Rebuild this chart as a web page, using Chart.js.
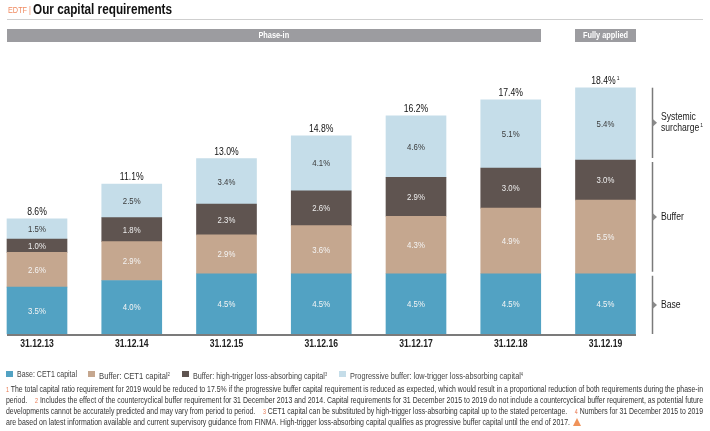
<!DOCTYPE html>
<html>
<head>
<meta charset="utf-8">
<script src="https://cdn.jsdelivr.net/npm/chart.js@4"></script>
<style>
  body { margin: 0; width: 710px; height: 431px; overflow: hidden; background: #fff;
         font-family: "Liberation Sans", Arial, sans-serif; color: #333; }
  #wrap { position: relative; width: 710px; height: 431px; }
  #chart { position: absolute; left: 0; top: 0; }
  .abs { position: absolute; white-space: nowrap; }
  .fit { display: inline-block; transform-origin: 0 50%; white-space: nowrap; }
  .tag { left: 8px; top: 3px; color: #f08a60; font-size: 9.5px; line-height: 14px; }
  .title { left: 33px; top: 1px; font-size: 14px; font-weight: bold; color: #111; line-height: 16px; }
  .rule { left: 7px; top: 19px; width: 696px; height: 1px; background: #cfcfcf; }
  .band { top: 29px; height: 13px; background: #9c9ca0; color: #fff; font-size: 9px;
          font-weight: bold; text-align: center; line-height: 13px; }
  .band .fit { transform-origin: 50% 50%; }
  .sq { top: 371px; width: 6.5px; height: 6px; }
  .leg { top: 368px; font-size: 9.5px; color: #444; line-height: 12px; }
  .leg sup, .foot sup { font-size: 5px; vertical-align: 3px; }
  .foot { left: 6px; font-size: 9px; color: #333; line-height: 11px; }
  .num { color: #e8734a; font-size: 7px; }
  .tri { left: 573px; top: 418px; width: 0; height: 0; border-left: 4.5px solid transparent;
         border-right: 4.5px solid transparent; border-bottom: 8px solid #f0935a; }
</style>
</head>
<body>
<div id="wrap">
  <canvas id="chart" width="710" height="431"></canvas>
  <div class="abs tag"><span class="fit" data-w="23">EDTF |</span></div>
  <div class="abs title"><span class="fit" data-w="139">Our capital requirements</span></div>
  <div class="abs rule"></div>
  <div class="abs band" style="left:7px;width:534px;"><span class="fit" data-s="0.82">Phase-in</span></div>
  <div class="abs band" style="left:575px;width:61px;"><span class="fit" data-s="0.82">Fully applied</span></div>

  <div class="abs sq" style="left:6px;background:#52a2c3"></div>
  <div class="abs leg" style="left:16.5px;"><span class="fit" data-w="60">Base: CET1 capital</span></div>
  <div class="abs sq" style="left:88px;background:#c5a78f"></div>
  <div class="abs leg" style="left:98.5px;"><span class="fit" data-w="71">Buffer: CET1 capital<sup>2</sup></span></div>
  <div class="abs sq" style="left:182px;background:#5f5450"></div>
  <div class="abs leg" style="left:192.5px;"><span class="fit" data-w="134">Buffer: high-trigger loss-absorbing capital<sup>3</sup></span></div>
  <div class="abs sq" style="left:339px;background:#c5dde9"></div>
  <div class="abs leg" style="left:350px;"><span class="fit" data-w="173">Progressive buffer: low-trigger loss-absorbing capital<sup>4</sup></span></div>

  <div class="abs foot" style="top:384px;"><span class="fit" data-w="697"><span class="num">1</span> The total capital ratio requirement for 2019 would be reduced to 17.5% if the progressive buffer capital requirement is reduced as expected, which would result in a proportional reduction of both requirements during the phase-in</span></div>
  <div class="abs foot" style="top:395px;"><span class="fit" data-w="697">period.&nbsp;&nbsp;&nbsp; <span class="num">2</span> Includes the effect of the countercyclical buffer requirement for 31 December 2013 and 2014. Capital requirements for 31 December 2015 to 2019 do not include a countercyclical buffer requirement, as potential future</span></div>
  <div class="abs foot" style="top:406px;"><span class="fit" data-w="697">developments cannot be accurately predicted and may vary from period to period.&nbsp;&nbsp;&nbsp; <span class="num">3</span> CET1 capital can be substituted by high-trigger loss-absorbing capital up to the stated percentage.&nbsp;&nbsp;&nbsp; <span class="num">4</span> Numbers for 31 December 2015 to 2019</span></div>
  <div class="abs foot" style="top:417px;"><span class="fit" data-w="564">are based on latest information available and current supervisory guidance from FINMA. High-trigger loss-absorbing capital qualifies as progressive buffer capital until the end of 2017.</span></div>
  <div class="abs tri"></div>
</div>

<script>
// chart data (capital requirement in % of RWA)
var categories = ["31.12.13", "31.12.14", "31.12.15", "31.12.16", "31.12.17", "31.12.18", "31.12.19"];
var baseCet1 = [3.5, 4.0, 4.5, 4.5, 4.5, 4.5, 4.5];
var bufferCet1 = [2.6, 2.9, 2.9, 3.6, 4.3, 4.9, 5.5];
var highTrigger = [1.0, 1.8, 2.3, 2.6, 2.9, 3.0, 3.0];
var lowTrigger = [1.5, 2.5, 3.4, 4.1, 4.6, 5.1, 5.4];
var totals = [8.6, 11.1, 13.0, 14.8, 16.2, 17.4, 18.4];
var totalNotes = ["", "", "", "", "", "", "1"];

var labelColors = ["#f4f4f4", "#f4f4f4", "#eeeeee", "#3a3a3a"];
var FONT = '"Liberation Sans", Arial, sans-serif';
var SX = 0.82; // condensed look

// squeeze html text to the widths in the original
document.querySelectorAll(".fit").forEach(function (el) {
    var s = el.dataset.s ? parseFloat(el.dataset.s) : parseFloat(el.dataset.w) / el.getBoundingClientRect().width;
    el.style.transform = "scaleX(" + s + ")";
});

// condensed canvas text, returns drawn width
function txt(c, s, x, y, size, weight, color, align) {
    c.save();
    c.font = weight + " " + size + "px " + FONT;
    c.fillStyle = color;
    c.textBaseline = "middle";
    c.textAlign = "left";
    var w = c.measureText(s).width * SX;
    var x0 = align === "center" ? x - w / 2 : (align === "right" ? x - w : x);
    c.translate(x0, y);
    c.scale(SX, 1);
    c.fillText(s, 0, 0);
    c.restore();
    return w;
}

var labelsPlugin = {
    id: "stackLabels",
    afterDatasetsDraw: function (chart) {
        var c = chart.ctx;
        var y = chart.scales.y;
        var x = chart.scales.x;
        var area = chart.chartArea;

        // baseline
        c.fillStyle = "#7b7b7b";
        c.fillRect(7, area.bottom, 629, 2);

        // category labels
        categories.forEach(function (cat, i) {
            txt(c, cat, x.getPixelForValue(i), area.bottom + 10, 10.5, "bold", "#222", "center");
        });

        // segment values
        chart.data.datasets.forEach(function (ds, di) {
            chart.getDatasetMeta(di).data.forEach(function (bar, i) {
                txt(c, ds.data[i].toFixed(1) + "%", bar.x, (bar.y + bar.base) / 2 + 0.5, 9.5, "normal", labelColors[di], "center");
            });
        });

        // totals on top
        chart.getDatasetMeta(3).data.forEach(function (bar, i) {
            var s = totals[i].toFixed(1) + "%";
            c.font = "10.5px " + FONT;
            var w = c.measureText(s).width * SX;
            var sw = totalNotes[i] ? 4 : 0;
            var x0 = bar.x - (w + sw) / 2;
            txt(c, s, x0, bar.y - 6.5, 10.5, "normal", "#111", "left");
            if (totalNotes[i]) txt(c, totalNotes[i], x0 + w + 1, bar.y - 9.5, 6, "normal", "#111", "left");
        });

        // brackets next to the fully applied bar
        var last = categories.length - 1;
        var b1 = baseCet1[last];
        var b2 = b1 + bufferCet1[last] + highTrigger[last];
        var b3 = b2 + lowTrigger[last];
        var groups = [
            { from: 0, to: b1, text: ["Base"] },
            { from: b1, to: b2, text: ["Buffer"] },
            { from: b2, to: b3, text: ["Systemic", "surcharge"], note: "1" }
        ];
        var bx = 652.5;
        groups.forEach(function (g) {
            var yTop = y.getPixelForValue(g.to) + (g.to === b3 ? 0 : 2);
            var yBot = y.getPixelForValue(g.from) - (g.from === 0 ? 0 : 2);
            c.strokeStyle = "#7a7a7a";
            c.lineWidth = 1.5;
            c.beginPath();
            c.moveTo(bx, yTop);
            c.lineTo(bx, yBot);
            c.stroke();
            var mid = (yTop + yBot) / 2;
            c.fillStyle = "#8a8a8a";
            c.beginPath();
            c.moveTo(bx, mid - 4);
            c.lineTo(bx + 4.5, mid);
            c.lineTo(bx, mid + 4);
            c.closePath();
            c.fill();
            var n = g.text.length;
            g.text.forEach(function (t, k) {
                var ty = mid + (k - (n - 1) / 2) * 10.5;
                var tw = txt(c, t, 661, ty, 10.5, "normal", "#1a1a1a", "left");
                if (g.note && k === n - 1) txt(c, g.note, 661 + tw + 1, ty - 3, 6, "normal", "#1a1a1a", "left");
            });
        });
    }
};

function makeSet(label, values, color) {
    return {
        label: label,
        data: values,
        backgroundColor: color,
        borderWidth: 0,
        barThickness: 60,
        clip: false
    };
}

var ctx = document.getElementById("chart").getContext("2d");
var myChart = new Chart(ctx, {
    type: "bar",
    data: {
        labels: categories,
        datasets: [
            makeSet("Base: CET1 capital", baseCet1, "#52a2c3"),
            makeSet("Buffer: CET1 capital", bufferCet1, "#c5a78f"),
            makeSet("Buffer: high-trigger loss-absorbing capital", highTrigger, "#5f5450"),
            makeSet("Progressive buffer: low-trigger loss-absorbing capital", lowTrigger, "#c5dde9")
        ]
    },
    options: {
        responsive: false,
        animation: false,
        layout: { padding: { left: 37, right: 104.5, top: 66.3, bottom: 97 } },
        plugins: { legend: { display: false }, tooltip: { enabled: false } },
        scales: {
            x: { stacked: true, offset: false, display: false },
            y: { stacked: true, display: false, min: 0, max: 20 }
        }
    },
    plugins: [labelsPlugin]
});
</script>
</body>
</html>
